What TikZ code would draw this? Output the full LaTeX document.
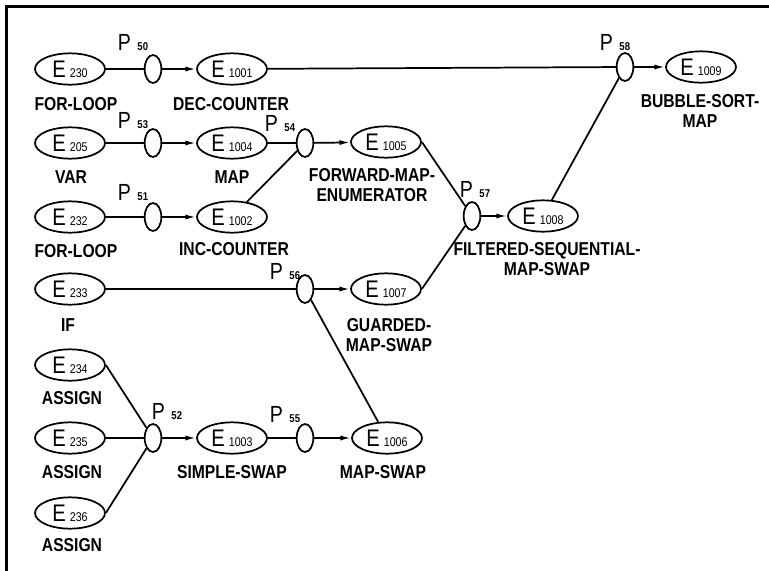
\documentclass[tikz,border=0pt]{standalone}
\usepackage{fontspec}
\setmainfont{Liberation Sans}[FakeStretch=0.84]
\usetikzlibrary{shapes.geometric,arrows.meta}
\newcommand{\enum}[1]{{\fontsize{9.5}{10}\selectfont #1}}
\newcommand{\pnum}[1]{{\fontsize{8.5}{9}\selectfont\bfseries #1}}
\begin{document}
\begin{tikzpicture}[x=.75pt,y=-.75pt,line width=1.3pt,
 ent/.style={ellipse,draw,inner sep=0pt,minimum width=52.5pt,minimum height=23.5pt,
  font=\fontsize{18}{18}\selectfont},
 plc/.style={ellipse,draw,inner sep=0pt,minimum width=12.5pt,minimum height=21pt},
 plab/.style={inner sep=0pt,font=\fontsize{17.5}{18}\selectfont},
 lbl/.style={inner sep=0pt,align=center,font=\fontsize{14}{15}\selectfont\bfseries},
 arr/.style={-{Latex[length=8pt,width=3.8pt]}}]
\useasboundingbox (0,0) rectangle (769,571);
\draw[line width=2.2pt] (6.5,571) -- (6.5,6.5) -- (769,6.5);
% entities
\foreach \n/\x/\y in {230/70/69,1001/232/69,1009/701/67,205/70/143,1004/232/143,
 1005/386/142,232/70/217,1002/232/217,1008/543/216,233/70/289,1007/386/289,
 234/70/365,235/70/438,236/70/513,1003/232/438,1006/387/438}
 \node[ent] (e\n) at (\x,\y) {E\,\enum{\n}};
% places
\foreach \n/\x/\y in {50/153/69,53/153/143,51/153/217,54/305/143,56/305/289,
 52/153/438,55/305/438,57/472/216,58/625/67}
 \node[plc] (p\n) at (\x,\y) {};
\foreach \n/\x/\y in {50/133/43,53/133/121,51/133/193,54/280/124,56/285/272,
 52/167/412,55/285/415,57/475/190,58/615/43}
 \node[plab] (l\n) at (\x,\y) {P\;\pnum{\n}};
% entity names
\foreach \n/\x/\y/\t in {a/76/104/FOR-LOOP,b/231/104/DEC-COUNTER,c/71/177/VAR,
 d/232/177/MAP,e/76/251/FOR-LOOP,f/234/249/INC-COUNTER,g/68/325/IF,
 h/72/398/ASSIGN,i/72/472/ASSIGN,j/72/545/ASSIGN,k/232/472/SIMPLE-SWAP,
 l/383/472/MAP-SWAP}
 \node[lbl] (n\n) at (\x,\y) {\t};
\node[lbl] (nm) at (372,185) {FORWARD-MAP-\\ENUMERATOR};
\node[lbl] (nn) at (389,335) {GUARDED-\\MAP-SWAP};
\node[lbl] (no) at (547,259) {FILTERED-SEQUENTIAL-\\MAP-SWAP};
\node[lbl] (np) at (700,111) {BUBBLE-SORT-\\MAP};
% connectors
\draw (e230)--(p50) (e205)--(p53) (e232)--(p51) (e1004)--(p54) (e1002)--(p54)
 (e233)--(p56) (e234.east)--(p52) (e235)--(p52) (e236.east)--(p52) (e1003)--(p55)
 (p56)--(e1006) (e1005.east)--(p57) (e1007.east)--(p57) (e1001)--(p58) (e1008)--(p58);
\foreach \a/\b in {p50/e1001,p53/e1004,p51/e1002,p54/e1005,p56/e1007,
 p52/e1003,p55/e1006,p57/e1008,p58/e1009}
 \draw[arr] (\a)--(\b);
\end{tikzpicture}
\end{document}
